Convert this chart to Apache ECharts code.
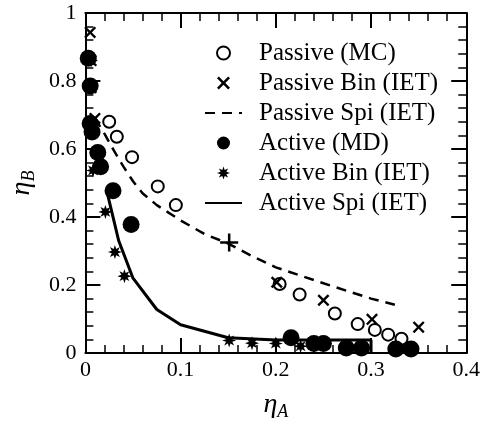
<!DOCTYPE html>
<html>
<head>
<meta charset="utf-8">
<script src="https://cdn.jsdelivr.net/npm/echarts@6/dist/echarts.min.js"></script>
<style>
  html, body { margin: 0; padding: 0; background: #fff; }
  #root { width: 483px; height: 426px; }
</style>
</head>
<body>
<div id="root"></div>
<script>
// values
const passiveMcX = [0.025, 0.033, 0.049, 0.076, 0.095, 0.204, 0.225, 0.262, 0.286, 0.304, 0.318, 0.332];
const passiveMcY = [0.68, 0.636, 0.576, 0.49, 0.435, 0.203, 0.172, 0.116, 0.085, 0.068, 0.054, 0.042];

const passiveBinX = [0.005, 0.006, 0.006, 0.010, 0.201, 0.250, 0.301, 0.350];
const passiveBinY = [0.943, 0.86, 0.78, 0.69, 0.208, 0.155, 0.099, 0.076];
const passivePlusX = [0.151];
const passivePlusY = [0.325];

const passiveSpiX = [0.010, 0.02, 0.03, 0.04, 0.05, 0.06, 0.075, 0.1, 0.125, 0.15, 0.175, 0.2, 0.25, 0.3, 0.325];
const passiveSpiY = [0.69, 0.645, 0.595, 0.548, 0.505, 0.47, 0.435, 0.39, 0.35, 0.322, 0.285, 0.252, 0.205, 0.16, 0.142];

const activeMdX = [0.003, 0.005, 0.005, 0.007, 0.013, 0.016, 0.029, 0.048, 0.216, 0.240, 0.250, 0.274, 0.290, 0.326, 0.342];
const activeMdY = [0.867, 0.785, 0.675, 0.65, 0.59, 0.548, 0.477, 0.378, 0.045, 0.028, 0.028, 0.015, 0.015, 0.012, 0.012];

const activeBinX = [0.006, 0.006, 0.006, 0.008, 0.021, 0.031, 0.041, 0.151, 0.175, 0.2, 0.226];
const activeBinY = [0.86, 0.78, 0.66, 0.537, 0.415, 0.297, 0.226, 0.037, 0.029, 0.028, 0.02];

const activeSpiX = [0.023, 0.035, 0.05, 0.075, 0.1, 0.15, 0.2, 0.3, 0.3];
const activeSpiY = [0.47, 0.33, 0.22, 0.128, 0.083, 0.045, 0.038, 0.038, 0];

const xTicks = [0, 0.4, 0.1];   // min, max, interval
const yTicks = [0, 1, 0.2];

const pairs = (xs, ys) => xs.map((x, i) => [x, ys[i]]);

// marker shapes
const crossPath = 'path://M0,14L14,0L50,36L86,0L100,14L64,50L100,86L86,100L50,64L14,100L0,86L36,50Z';
const plusPath = 'path://M43,0H57V43H100V57H57V100H43V57H0V43H43Z';
let star = '';
for (let k = 0; k < 16; k++) {
  const r = k % 2 === 0 ? 50 : 24;
  const a = Math.PI * k / 8;
  star += (k === 0 ? 'M' : 'L') + (50 + r * Math.sin(a)).toFixed(1) + ',' + (50 - r * Math.cos(a)).toFixed(1);
}
const starPath = 'path://' + star + 'Z';

const font = '"Liberation Serif", "Times New Roman", serif';
const ink = '#000';

const baseAxis = (pos, t, showLabel) => ({
  type: 'value',
  position: pos,
  min: t[0], max: t[1], interval: t[2],
  axisLine: { show: true, onZero: false, lineStyle: { color: ink, width: 2 } },
  axisTick: { show: true, inside: true, length: 15, lineStyle: { color: ink, width: 2 } },
  minorTick: { show: true, splitNumber: 5, length: 8, lineStyle: { color: ink, width: 1.5 } },
  splitLine: { show: false },
  axisLabel: { show: showLabel, color: ink, fontFamily: font, fontSize: 22 },
});

const nameRich = {
  e: { fontFamily: font, fontStyle: 'italic', fontSize: 28, color: ink },
  s: { fontFamily: font, fontStyle: 'italic', fontSize: 18, color: ink, padding: [14, 0, 0, 0] }
};

const xMain = Object.assign(baseAxis('bottom', xTicks, true), {
  name: '{e|η}{s|A}',
  nameLocation: 'middle',
  nameGap: 36,
  nameTextStyle: { rich: nameRich }
});
xMain.axisLabel.margin = 6;
const yMain = Object.assign(baseAxis('left', yTicks, true), {
  name: '{e|η}{s|B}',
  nameLocation: 'middle',
  nameGap: 38,
  nameRotate: 90,
  nameTextStyle: { rich: nameRich }
});
yMain.axisLabel.margin = 9;

const noSymbol = { color: 'rgba(0,0,0,0)', borderWidth: 0 };

const chart = echarts.init(document.getElementById('root'));
chart.setOption({
  backgroundColor: '#fff',
  animation: false,
  grid: { left: 80, right: 13, top: 13, bottom: 59 },
  xAxis: [xMain, baseAxis('top', xTicks, false)],
  yAxis: [yMain, baseAxis('right', yTicks, false)],
  legend: {
    orient: 'vertical',
    left: 199,
    top: 35,
    itemGap: 4,
    itemWidth: 37,
    itemHeight: 13,
    textStyle: { fontFamily: font, fontSize: 25, lineHeight: 26, color: ink, padding: [0, 0, 0, 12] },
    data: [
      'Passive (MC)',
      'Passive Bin (IET)',
      { name: 'Passive Spi (IET)', itemStyle: noSymbol },
      'Active (MD)',
      'Active Bin (IET)',
      { name: 'Active Spi (IET)', itemStyle: noSymbol }
    ]
  },
  series: [
    {
      name: 'Passive Spi (IET)', type: 'line', symbol: 'none', smooth: false,
      lineStyle: { color: ink, width: 2.5, type: [10, 7] },
      itemStyle: { color: ink },
      data: pairs(passiveSpiX, passiveSpiY), z: 2
    },
    {
      name: 'Active Spi (IET)', type: 'line', symbol: 'none',
      lineStyle: { color: ink, width: 3 },
      itemStyle: { color: ink },
      data: pairs(activeSpiX, activeSpiY), z: 2
    },
    {
      name: 'Passive (MC)', type: 'scatter', symbol: 'emptyCircle', symbolSize: 12,
      itemStyle: { color: ink, borderColor: ink, borderWidth: 2.5, opacity: 1 },
      data: pairs(passiveMcX, passiveMcY), z: 3
    },
    {
      name: 'Passive Bin (IET)', type: 'scatter', symbol: crossPath, symbolSize: 12,
      itemStyle: { color: ink, opacity: 1 },
      data: pairs(passiveBinX, passiveBinY).concat(
        pairs(passivePlusX, passivePlusY).map(v => ({ value: v, symbol: plusPath, symbolSize: 18 }))
      ),
      z: 3
    },
    {
      name: 'Active Bin (IET)', type: 'scatter', symbol: starPath, symbolSize: 14,
      itemStyle: { color: ink, opacity: 1 },
      data: pairs(activeBinX, activeBinY), z: 4
    },
    {
      name: 'Active (MD)', type: 'scatter', symbol: 'circle', symbolSize: 17,
      itemStyle: { color: ink, opacity: 1 },
      data: pairs(activeMdX, activeMdY), z: 5
    }
  ]
});
</script>
</body>
</html>
